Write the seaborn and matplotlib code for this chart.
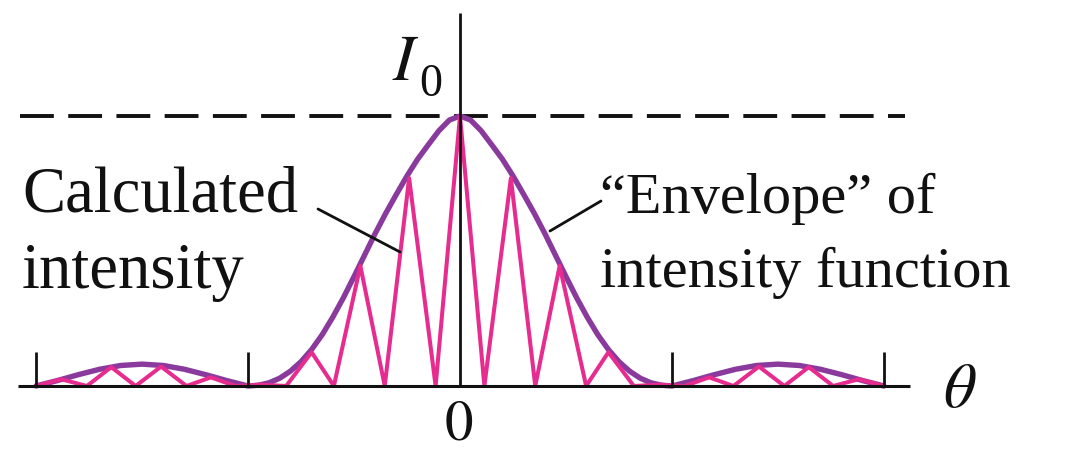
import matplotlib
matplotlib.use("Agg")
import matplotlib.pyplot as plt
import pandas as pd
import seaborn as sns

# Single-slit "envelope": relative intensity I/I0 against theta,
# theta measured in units of the first diffraction minimum.
envelope_theta = [
    -2.00, -1.90, -1.80, -1.70, -1.60, -1.50, -1.40, -1.30, -1.20, -1.10,
    -1.00, -0.95, -0.90, -0.85, -0.80, -0.75, -0.70, -0.65, -0.60, -0.55,
    -0.50, -0.45, -0.40, -0.35, -0.30, -0.25, -0.20, -0.15, -0.10, -0.05,
    0.00,
    0.05, 0.10, 0.15, 0.20, 0.25, 0.30, 0.35, 0.40, 0.45, 0.50,
    0.55, 0.60, 0.65, 0.70, 0.75, 0.80, 0.85, 0.90, 0.95, 1.00,
    1.10, 1.20, 1.30, 1.40, 1.50, 1.60, 1.70, 1.80, 1.90, 2.00,
]
envelope_intensity = [
    0.000, 0.020, 0.042, 0.062, 0.076, 0.081, 0.076, 0.062, 0.042, 0.020,
    0.000, 0.003, 0.012, 0.029, 0.055, 0.090, 0.135, 0.190, 0.255, 0.327,
    0.405, 0.485, 0.565, 0.640, 0.710, 0.778, 0.840, 0.893, 0.945, 0.985,
    1.000,
    0.985, 0.945, 0.893, 0.840, 0.778, 0.710, 0.640, 0.565, 0.485, 0.405,
    0.327, 0.255, 0.190, 0.135, 0.090, 0.055, 0.029, 0.012, 0.003, 0.000,
    0.020, 0.042, 0.062, 0.076, 0.081, 0.076, 0.062, 0.042, 0.020, 0.000,
]

# Calculated intensity: fringe maxima and minima under the envelope
fringe_theta = [
    -2.00, -1.88, -1.76, -1.645, -1.53, -1.41, -1.29, -1.175, -1.06, -0.94,
    -0.82, -0.70, -0.595, -0.47, -0.355, -0.24, -0.115,
    0.00,
    0.115, 0.24, 0.355, 0.47, 0.595, 0.70, 0.82,
    0.94, 1.06, 1.175, 1.29, 1.41, 1.53, 1.645, 1.76, 1.88, 2.00,
]
fringe_intensity = [
    0.000, 0.025, 0.000, 0.070, 0.000, 0.072, 0.000, 0.032, 0.000, 0.005,
    0.000, 0.125, 0.000, 0.445, 0.000, 0.770, 0.000,
    1.000,
    0.000, 0.770, 0.000, 0.445, 0.000, 0.125, 0.000,
    0.005, 0.000, 0.032, 0.000, 0.072, 0.000, 0.070, 0.000, 0.025, 0.000,
]

# Positions of the diffraction minima marked on the theta axis
diffraction_minima = [-2, -1, 1, 2]
peak_level = 1.0

label_peak_symbol = r"$I$"
label_peak_index = "0"
label_theta = r"$\theta$"
label_origin = r"$\mathrm{0}$"
label_calculated = ["Calculated", "intensity"]
label_envelope = ["\u201cEnvelope\u201d of", "intensity function"]

ENVELOPE_COLOR = "#8A3A9C"
FRINGE_COLOR = "#E62C8E"
INK = "#111111"

sns.set_theme(style="white")
plt.rcParams["font.family"] = ["Liberation Serif", "DejaVu Serif"]
plt.rcParams["mathtext.fontset"] = "stix"

# Layout: pixel scale of the drawing (origin and units in pixels)
W, H, DPI = 1086, 453, 100
X0, Y0 = 460.0, 386.0          # origin of the theta/intensity axes
SX, SY = 212.0, 270.0          # pixels per theta unit, pixels per I0


def px(x, y):
    """Convert a pixel position to data coordinates."""
    return (x - X0) / SX, (Y0 - y) / SY


fig = plt.figure(figsize=(W / DPI, H / DPI), dpi=DPI)
ax = fig.add_axes([0, 0, 1, 1])
ax.set_xlim(-X0 / SX, (W - X0) / SX)
ax.set_ylim(-(H - Y0) / SY, Y0 / SY)
ax.axis("off")

env_df = pd.DataFrame({"theta": envelope_theta, "I": envelope_intensity})
fr_df = pd.DataFrame({"theta": fringe_theta, "I": fringe_intensity})

sns.lineplot(data=env_df, x="theta", y="I", sort=False, estimator=None,
             color=ENVELOPE_COLOR, linewidth=3.9, ax=ax, zorder=3,
             solid_joinstyle="round", solid_capstyle="round")
sns.lineplot(data=fr_df, x="theta", y="I", sort=False, estimator=None,
             color=FRINGE_COLOR, linewidth=2.9, ax=ax, zorder=4,
             solid_joinstyle="round", solid_capstyle="round")

# Axes drawn as plain lines
x_left, _ = px(18, 0)
x_right, _ = px(910, 0)
_, y_top = px(0, 13)
ax.plot([x_left, x_right], [0, 0], color=INK, lw=2.2, zorder=6,
        solid_capstyle="butt")
ax.plot([0, 0], [0, y_top], color=INK, lw=2.0, zorder=6,
        solid_capstyle="butt")

# Tick marks at the diffraction minima
_, tick_h = px(0, 352)
ax.vlines(diffraction_minima, 0, tick_h, color=INK, lw=2.0, zorder=6)

# Dashed reference level at I0
dx0, _ = px(20, 0)
dx1, _ = px(905, 0)
ax.plot([dx0, dx1], [peak_level, peak_level], color=INK, lw=2.8, zorder=2,
        linestyle=(0, (8.7, 3.7)), dash_capstyle="butt")

# Labels
for i, line in enumerate(label_calculated):
    x, y = px(22, 211 + 77 * i)
    ax.text(x, y, line, fontsize=46.5, color=INK, ha="left", va="baseline")
for i, line in enumerate(label_envelope):
    x, y = px(600, 213 + 74 * i)
    ax.text(x, y, line, fontsize=42, color=INK, ha="left", va="baseline")

x, y = px(392, 80)
ax.text(x, y, label_peak_symbol, fontsize=47, color=INK, ha="left",
        va="baseline")
x, y = px(419, 96)
ax.text(x, y, label_peak_index, fontsize=33, color=INK, ha="left",
        va="baseline")
x, y = px(459, 440)
ax.text(x, y, label_origin, fontsize=41, color=INK, ha="center",
        va="baseline")
x, y = px(943, 392)
ax.text(x, y, label_theta, fontsize=46, color=INK, ha="left", va="center")

# Leader lines from the captions to the curves
ax.annotate("", xy=px(400, 252), xytext=px(318, 209),
            arrowprops=dict(arrowstyle="-", lw=2.0, color=INK,
                            shrinkA=0, shrinkB=0), zorder=7)
ax.annotate("", xy=px(550, 231), xytext=px(601, 201),
            arrowprops=dict(arrowstyle="-", lw=2.0, color=INK,
                            shrinkA=0, shrinkB=0), zorder=7)

fig.savefig("out.png", dpi=DPI, facecolor="white")
